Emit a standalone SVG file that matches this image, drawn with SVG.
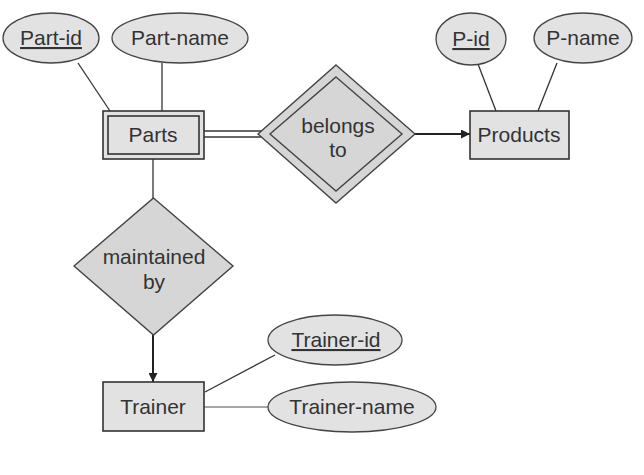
<svg xmlns="http://www.w3.org/2000/svg" width="644" height="475" viewBox="0 0 644 475">
<style>
.ent{fill:#e2e2e2;stroke:#333;stroke-width:1.6}
.att{fill:#e2e2e2;stroke:#444;stroke-width:1.3}
.rel{fill:#d6d6d6;stroke:#444;stroke-width:1.4}
.ln{stroke:#333;stroke-width:1.3;fill:none}
.lng{stroke:#888;stroke-width:1.6;fill:none}
.ar{stroke:#222;stroke-width:2;fill:none}
text{font-family:"Liberation Sans",Arial,sans-serif;font-size:21px;fill:#333;text-anchor:middle}
.u{text-decoration:underline}
</style>
<defs>
<marker id="ah" viewBox="0 0 10 10" refX="10" refY="5" markerWidth="5" markerHeight="4.5" orient="auto" markerUnits="strokeWidth">
<path d="M0,0 L10,5 L0,10 z" fill="#222"/>
</marker>
</defs>
<g id="connectors">
<line class="ln" x1="78" y1="63" x2="110" y2="111"/>
<line class="ln" x1="162" y1="63" x2="162" y2="111"/>
<line class="ln" x1="204" y1="131" x2="262" y2="131"/>
<line class="ln" x1="204" y1="137" x2="262" y2="137"/>
<line class="ar" x1="415" y1="134" x2="470" y2="134" marker-end="url(#ah)"/>
<line class="ln" x1="478" y1="64" x2="496" y2="111"/>
<line class="ln" x1="557" y1="63" x2="538" y2="111"/>
<line class="ln" x1="153" y1="159" x2="153" y2="198"/>
<line class="ar" x1="153" y1="335" x2="153" y2="382" marker-end="url(#ah)"/>
<line class="ln" x1="205" y1="392" x2="275" y2="355"/>
<line class="lng" x1="204" y1="407" x2="269" y2="407"/>
</g>
<g id="part-id"><ellipse class="att" cx="51" cy="38" rx="48" ry="25"/><text x="51" y="45" class="u">Part-id</text></g>
<g id="part-name"><ellipse class="att" cx="180" cy="38" rx="68" ry="25"/><text x="180" y="45">Part-name</text></g>
<g id="parts"><rect class="ent" x="103" y="111" width="101" height="48"/><rect class="ent" x="108" y="116" width="91" height="38" stroke-width="1.4"/><text x="153" y="142">Parts</text></g>
<g id="belongs-to"><polygon class="rel" points="336,65 415,134 336,203 258,134"/><polygon class="rel" points="336,77 402,134 336,191 270,134"/><text x="338" y="133">belongs</text><text x="338" y="157">to</text></g>
<g id="products"><rect class="ent" x="470" y="111" width="99" height="48"/><text x="519" y="142">Products</text></g>
<g id="p-id"><ellipse class="att" cx="471" cy="39" rx="35" ry="26"/><text x="471" y="46" class="u">P-id</text></g>
<g id="p-name"><ellipse class="att" cx="583" cy="38" rx="49" ry="25"/><text x="583" y="45">P-name</text></g>
<g id="maintained-by"><polygon class="rel" points="153.5,198 233,266 153.5,335 74,266"/><text x="154" y="264">maintained</text><text x="154" y="289">by</text></g>
<g id="trainer"><rect class="ent" x="103" y="382" width="101" height="49"/><text x="153" y="414">Trainer</text></g>
<g id="trainer-id"><ellipse class="att" cx="335" cy="340" rx="67" ry="25"/><text x="336" y="347" class="u">Trainer-id</text></g>
<g id="trainer-name"><ellipse class="att" cx="352" cy="407" rx="84" ry="25"/><text x="352" y="414">Trainer-name</text></g>
</svg>
